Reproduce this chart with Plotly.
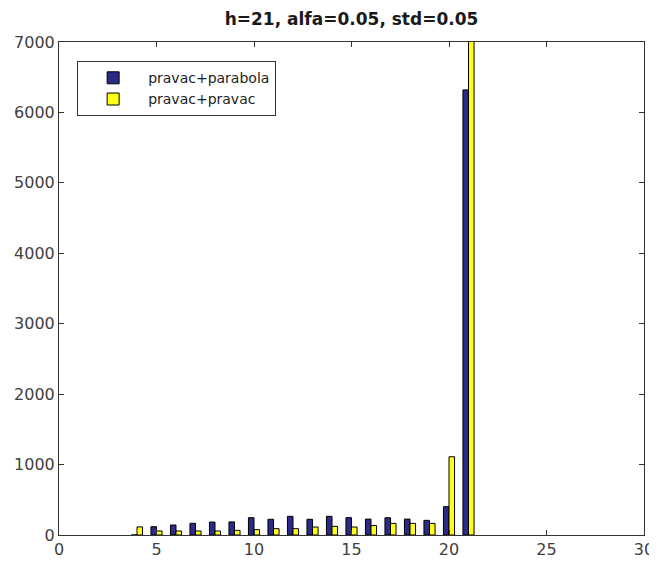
import plotly.graph_objects as go

x_vals = [4, 5, 6, 7, 8, 9, 10, 11, 12, 13, 14, 15, 16, 17, 18, 19, 20, 21]
parabola = [0, 118, 142, 166, 184, 186, 246, 223, 265, 223, 265, 246, 226, 245, 226, 208, 402, 6320]
pravac = [115, 57, 57, 57, 57, 66, 76, 90, 90, 113, 123, 113, 135, 165, 165, 165, 1111, 7600]

series_names = ["pravac+parabola", "pravac+pravac"]
title_text = "h=21, alfa=0.05, std=0.05"
x_ticks = [0, 5, 10, 15, 20, 25, 30]
y_ticks = [0, 1000, 2000, 3000, 4000, 5000, 6000, 7000]

FONT = "DejaVu Sans, Liberation Sans, Arial"

fig = go.Figure()
fig.add_trace(go.Bar(x=x_vals, y=parabola, name=series_names[0],
                     marker=dict(color="#2b2a86", line=dict(color="black", width=1))))
fig.add_trace(go.Bar(x=x_vals, y=pravac, name=series_names[1],
                     marker=dict(color="#ffff1a", line=dict(color="black", width=1))))

axis_common = dict(showgrid=False, zeroline=False, showline=True, linecolor="#333",
                   linewidth=1, mirror="ticks", ticks="inside", ticklen=5,
                   tickcolor="#333", automargin=False,
                   tickfont=dict(family=FONT, size=16, color="#404040"))

# page body has an 8px margin, so the figure is offset by (8, 8) in the window
fig.update_layout(
    width=657, height=566,
    margin=dict(l=51, r=21, t=34, b=39),
    paper_bgcolor="white", plot_bgcolor="white",
    barmode="group", bargap=0.43, bargroupgap=0,
    title=dict(text="<b>" + title_text + "</b>", xref="paper", x=0.5, xanchor="center",
               y=1 - 11 / 566, yanchor="middle",
               font=dict(family=FONT, size=17, color="#1a1a1a")),
    xaxis=dict(range=[0, 30], tickvals=x_ticks, **axis_common),
    yaxis=dict(range=[0, 7000], tickvals=y_ticks, **axis_common),
    legend=dict(x=0.031, y=0.961, xanchor="left", yanchor="top",
                bordercolor="#333", borderwidth=1, bgcolor="white",
                font=dict(family=FONT, size=14, color="#222"),
                itemwidth=60, tracegroupgap=0),
    showlegend=True,
)

fig.write_html("out.html")
